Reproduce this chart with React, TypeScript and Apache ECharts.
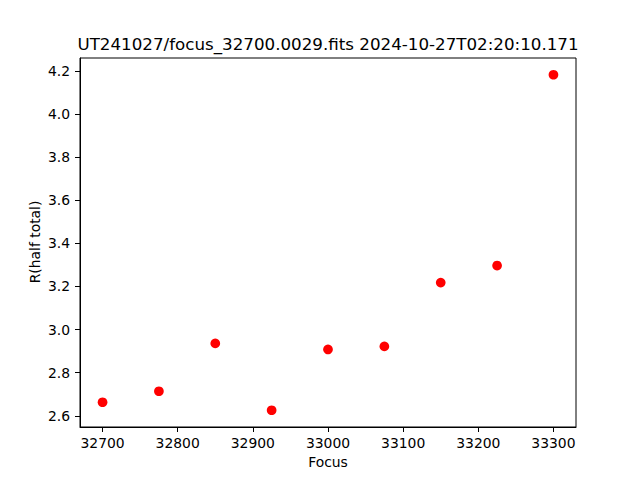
import React, { useEffect, useRef } from "react";
import * as echarts from "echarts";

const titleText = "UT241027/focus_32700.0029.fits 2024-10-27T02:20:10.171";
const xLabel = "Focus";
const yLabel = "R(half total)";
const focusValues = [32700, 32775, 32850, 32925, 33000, 33075, 33150, 33225, 33300];
const rValues = [2.663, 2.714, 2.936, 2.626, 2.908, 2.922, 3.218, 3.297, 4.182];
const xTicks = [32700, 32800, 32900, 33000, 33100, 33200, 33300];
const yTicks = [2.6, 2.8, 3.0, 3.2, 3.4, 3.6, 3.8, 4.0, 4.2];

const FONT = "DejaVu Sans";

export default function App() {
  const ref = useRef<HTMLDivElement>(null);
  useEffect(() => {
    if (!ref.current) return;
    const chart = echarts.init(ref.current, null, { renderer: "svg" });
    const xr = Math.max(...focusValues) - Math.min(...focusValues);
    const yr = Math.max(...rValues) - Math.min(...rValues);
    const xmin = Math.min(...focusValues) - 0.05 * xr;
    const xmax = Math.max(...focusValues) + 0.05 * xr;
    const ymin = Math.min(...rValues) - 0.05 * yr;
    const ymax = Math.max(...rValues) + 0.05 * yr;
    chart.setOption({
      animation: false,
      backgroundColor: "#ffffff",
      grid: {
        left: 80,
        right: 64,
        top: 58,
        bottom: 53,
        show: true,
        borderColor: "#000",
        borderWidth: 1,
        backgroundColor: "transparent",
      },
      xAxis: {
        type: "value",
        min: xmin,
        max: xmax,
        axisLine: { show: true, lineStyle: { color: "#000", width: 1 } },
        axisTick: { show: true, length: 5, lineStyle: { color: "#000", width: 1 }, customValues: xTicks },
        axisLabel: {
          color: "#000",
          fontFamily: FONT,
          fontSize: 13.9,
          margin: 9,
          customValues: xTicks,
          formatter: (v: number) => String(Math.round(v)),
        },
        splitLine: { show: false },
      },
      yAxis: {
        type: "value",
        min: ymin,
        max: ymax,
        axisLine: { show: true, lineStyle: { color: "#000", width: 1 } },
        axisTick: { show: true, length: 5, lineStyle: { color: "#000", width: 1 }, customValues: yTicks },
        axisLabel: {
          color: "#000",
          fontFamily: FONT,
          fontSize: 13.9,
          margin: 10,
          customValues: yTicks,
          formatter: (v: number) => v.toFixed(1),
        },
        splitLine: { show: false },
      },
      graphic: [
        {
          type: "text",
          x: 328,
          y: 44,
          style: {
            text: titleText,
            font: `16.7px ${FONT}`,
            fill: "#000",
            textAlign: "center",
            textVerticalAlign: "middle",
          },
        },
        {
          type: "text",
          x: 328,
          y: 462,
          style: {
            text: xLabel,
            font: `13.9px ${FONT}`,
            fill: "#000",
            textAlign: "center",
            textVerticalAlign: "middle",
          },
        },
        {
          type: "text",
          x: 35,
          y: 242,
          rotation: Math.PI / 2,
          style: {
            text: yLabel,
            font: `13.9px ${FONT}`,
            fill: "#000",
            textAlign: "center",
            textVerticalAlign: "middle",
          },
        },
      ],
      series: [
        {
          type: "scatter",
          data: focusValues.map((f, i) => [f, rValues[i]]),
          symbol: "circle",
          symbolSize: 9.7,
          itemStyle: { color: "#ff0000", opacity: 1 },
        },
      ],
    });
    return () => chart.dispose();
  }, []);
  return <div ref={ref} style={{ width: 640, height: 480, position: "absolute", left: 0, top: 0 }} />;
}
